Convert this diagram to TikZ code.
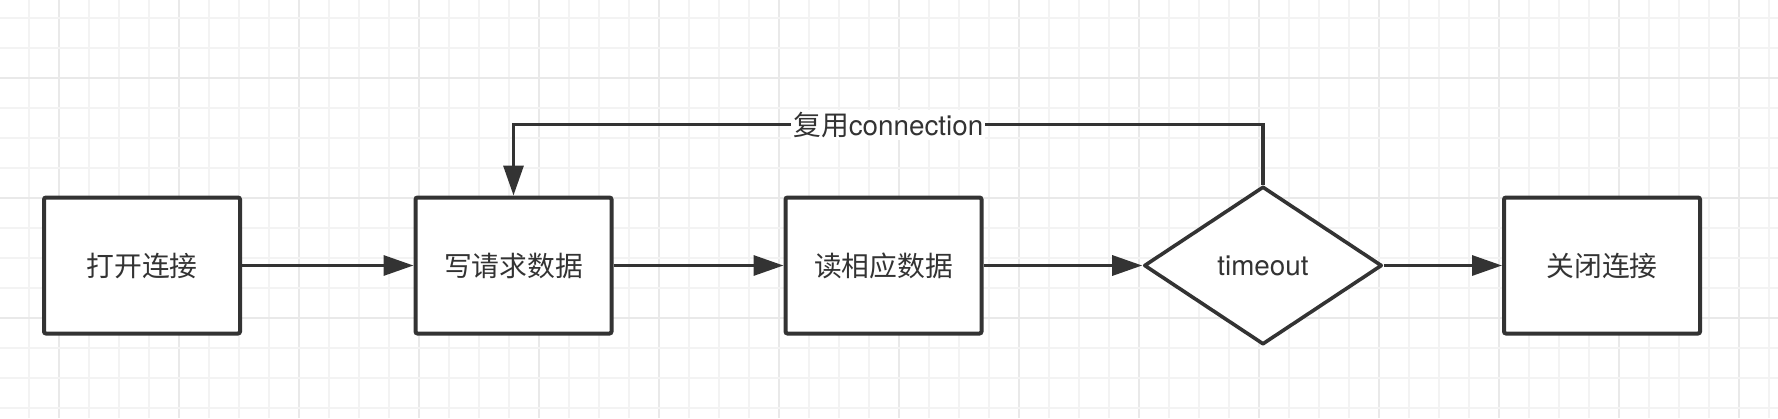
\documentclass[tikz,border=0pt]{standalone}
\usepackage{fontspec}
\setmainfont{TeX Gyre Heros}
\newfontfamily\cjk{Noto Sans CJK SC}
\usetikzlibrary{shapes.geometric,arrows.meta}
\definecolor{linec}{HTML}{333333}
\definecolor{gridminor}{HTML}{F3F3F3}
\definecolor{gridmajor}{HTML}{E9E9E9}
\begin{document}
\begin{tikzpicture}[x=0.5pt,y=-0.5pt,
  txt/.style={font=\fontsize{13.9}{16}\selectfont, text=linec},
  box/.style={draw=linec, line width=2pt, fill=white, minimum width=98pt, minimum height=68pt, inner sep=0pt, rounded corners=1pt, txt},
  decide/.style={diamond, draw=linec, line width=1.8pt, fill=white, minimum width=119pt, minimum height=79pt, inner sep=0pt, line join=round, txt},
  conn/.style={draw=linec, line width=1.6pt, -{Triangle[length=15pt,width=10pt]}},
  lbl/.style={fill=white, inner sep=1pt, txt},
  gminor/.style={draw=gridminor, line width=1pt},
  gmajor/.style={draw=gridmajor, line width=1pt}]
\fill[white] (0,0) rectangle (1778,418);
\useasboundingbox (0,0) rectangle (1778,418);
% grid
\foreach \i in {0,...,58} {
  \pgfmathtruncatemacro{\m}{mod(\i,4)}
  \ifnum\m=1 \draw[gmajor] ({29+30*\i},0) -- ({29+30*\i},418);
  \else \draw[gminor] ({29+30*\i},0) -- ({29+30*\i},418); \fi
}
\foreach \j in {0,...,13} {
  \pgfmathtruncatemacro{\m}{mod(\j,4)}
  \ifnum\m=2 \draw[gmajor] (0,{18+30*\j}) -- (1778,{18+30*\j});
  \else \draw[gminor] (0,{18+30*\j}) -- (1778,{18+30*\j}); \fi
}
% nodes
\node[box] (A) at (142,265.5) {\cjk 打开连接};
\node[box] (B) at (513.5,265.5) {\cjk 写请求数据};
\node[box] (C) at (883.5,265.5) {\cjk 读相应数据};
\node[decide] (D) at (1263,265.5) {timeout};
\node[box] (E) at (1602,265.5) {\cjk 关闭连接};
% connectors
\draw[conn] (A) -- (B);
\draw[conn] (B) -- (C);
\draw[conn] (C) -- (D);
\draw[conn] (D) -- (E);
\draw[conn] (D.north) -- ++(0,-60) -| (B.north) node[pos=0.25, lbl] {{\cjk 复用}connection};
\end{tikzpicture}
\end{document}
